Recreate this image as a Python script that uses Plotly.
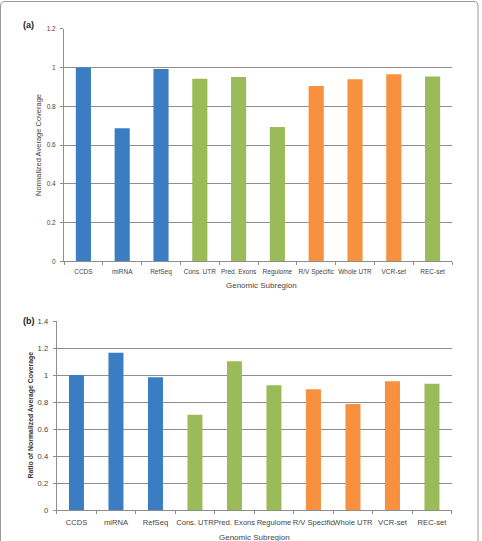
import plotly.graph_objects as go

categories = ["CCDS", "miRNA", "RefSeq", "Cons. UTR", "Pred. Exons", "Regulome",
              "R/V Specific", "Whole UTR", "VCR-set", "REC-set"]
coverage_a = [1.0, 0.686, 0.992, 0.942, 0.951, 0.693, 0.904, 0.939, 0.965, 0.954]
ratio_b = [1.0, 1.166, 0.984, 0.707, 1.102, 0.924, 0.895, 0.786, 0.954, 0.936]
group = ["A", "A", "A", "B", "B", "B", "C", "C", "C", "B"]
y_ticks_a = [0, 0.2, 0.4, 0.6, 0.8, 1, 1.2]
y_ticks_b = [0, 0.2, 0.4, 0.6, 0.8, 1, 1.2, 1.4]

palette = {"A": "#3b7dc3", "B": "#9bbb59", "C": "#f7913f"}
bar_colors = [palette[g] for g in group]

W, H = 482, 541
def px(x):
    return x / W
def py(y):
    return 1 - y / H

fig = go.Figure()
fig.add_trace(go.Bar(x=categories, y=coverage_a, marker_color=bar_colors,
                     marker_line_width=0, width=0.39, xaxis="x", yaxis="y",
                     showlegend=False, hoverinfo="x+y"))
fig.add_trace(go.Bar(x=categories, y=ratio_b, marker_color=bar_colors,
                     marker_line_width=0, width=0.38, xaxis="x2", yaxis="y2",
                     showlegend=False, hoverinfo="x+y"))

grid = "#8e8e8e"
tickfont_a = dict(family="Liberation Sans, Arial", size=6.5, color="#444")
tickfont_b = dict(family="Liberation Sans, Arial", size=7.6, color="#444")

fig.update_layout(
    width=W, height=H,
    margin=dict(l=0, r=0, t=0, b=0),
    paper_bgcolor="white", plot_bgcolor="white",
    xaxis=dict(domain=[px(64), px(452)], anchor="y", type="category",
               showline=True, linecolor=grid, linewidth=1, tickangle=0,
               ticks="outside", tickson="boundaries", ticklen=3, tickcolor=grid,
               ticklabelstandoff=4,
               tickfont=tickfont_a, showgrid=False, automargin=False),
    yaxis=dict(domain=[py(261.3), py(28.7)], anchor="x", range=[0, 1.2],
               tickvals=y_ticks_a, ticktext=[f"{v:g}" for v in y_ticks_a],
               showline=True, linecolor=grid, linewidth=1,
               ticks="outside", ticklen=3, tickcolor=grid, ticklabelstandoff=3,
               showgrid=True, gridcolor=grid, gridwidth=1,
               zeroline=False, tickfont=tickfont_a, automargin=False),
    xaxis2=dict(domain=[px(56.7), px(451.7)], anchor="y2", type="category",
                showline=True, linecolor=grid, linewidth=1, tickangle=0,
                ticks="outside", tickson="boundaries", ticklen=3, tickcolor=grid,
                ticklabelstandoff=5,
                tickfont=tickfont_b, showgrid=False, automargin=False),
    yaxis2=dict(domain=[py(510.3), py(321)], anchor="x2", range=[0, 1.4],
                tickvals=y_ticks_b, ticktext=[f"{v:g}" for v in y_ticks_b],
                showline=True, linecolor=grid, linewidth=1,
                ticks="outside", ticklen=3, tickcolor=grid, ticklabelstandoff=3,
                showgrid=True, gridcolor=grid, gridwidth=1,
                zeroline=False, tickfont=tickfont_b, automargin=False),
    bargap=0.6,
)

def note(text, x, y, size, color, angle=0):
    fig.add_annotation(text=text, xref="paper", yref="paper", x=px(x), y=py(y),
                       xanchor="center", yanchor="middle", textangle=angle,
                       showarrow=False,
                       font=dict(family="Liberation Sans, Arial", size=size, color=color))

note("Normalized Average Coverage", 38, 145, 7.5, "#444", -90)
note("<b>Ratio of Normalized Average Coverage</b>", 30, 415.5, 6.9, "#333", -90)
note("Genomic Subregion", 261.7, 285.7, 8, "#444")
note("Genomic Subregion", 254, 537.5, 8, "#444")
note("<b>(a)</b>", 28.5, 25, 9, "#222")
note("<b>(b)</b>", 28.5, 321, 9, "#222")

fig.add_shape(type="path", xref="paper", yref="paper",
              path=f"M {px(0.5)} {py(541)} L {px(0.5)} {py(6)} Q {px(0.5)} {py(1.5)} {px(5)} {py(1.5)} "
                   f"L {px(474)} {py(1.5)} Q {px(478)} {py(1.5)} {px(478)} {py(6)} L {px(478)} {py(541)}",
              line=dict(color="#9a9a9a", width=1))

fig.write_html("out.html")
